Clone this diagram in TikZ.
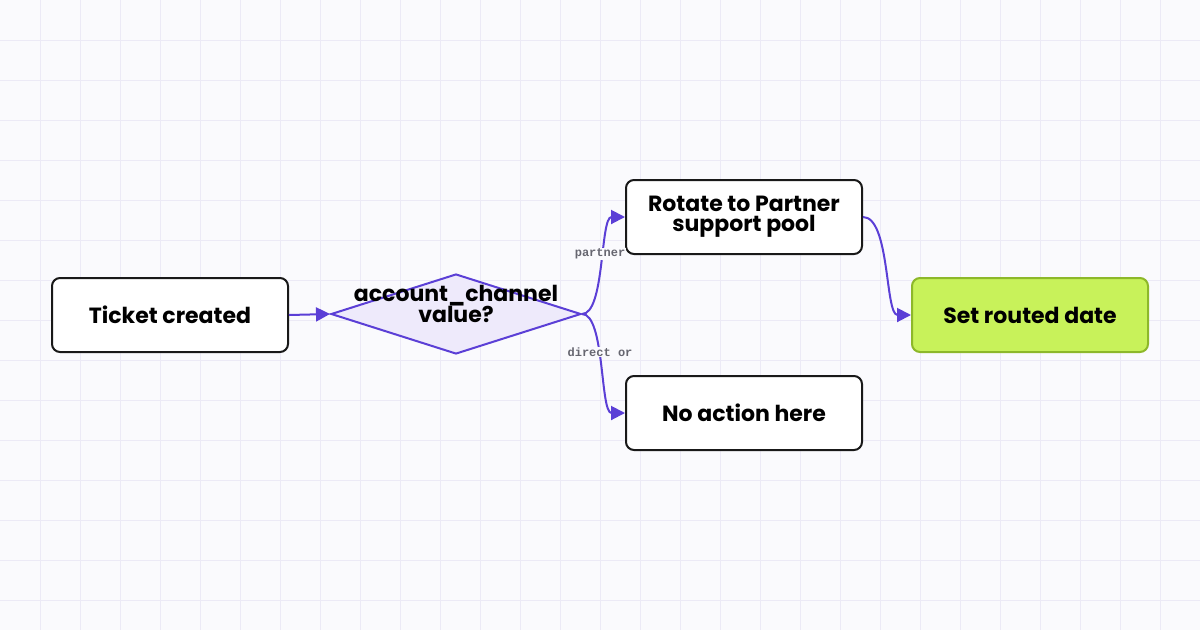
\documentclass[tikz,border=0pt]{standalone}
\usepackage{fontspec}
\setmainfont{Poppins}
\newfontfamily\lblfont{Liberation Mono}
\usetikzlibrary{shapes.geometric,arrows.meta}
\definecolor{edge}{HTML}{5B3FD6}
\definecolor{dfill}{HTML}{EEEAFB}
\definecolor{gfill}{HTML}{C8F25A}
\definecolor{gdraw}{HTML}{8DB82A}
\definecolor{gridc}{HTML}{ECEAF6}
\definecolor{bg}{HTML}{FAFAFD}
\definecolor{lbl}{HTML}{666670}
\begin{document}
\begin{tikzpicture}[x=1pt,y=-1pt,
  box/.style={draw=black!90,line width=2pt,rounded corners=8pt,fill=white,minimum width=236pt,minimum height=74pt,align=center,font=\fontsize{22}{20}\selectfont\bfseries,inner sep=2pt},
  conn/.style={draw=edge,line width=2pt,-{Triangle[length=14pt,width=14pt]}},
  lab/.style={font=\lblfont\fontsize{12}{12}\selectfont\bfseries,text=lbl}]
\fill[bg] (0,0) rectangle (1200,630);
\useasboundingbox (0,0) rectangle (1200,630);
\foreach \i in {40,80,...,1160} \draw[gridc,line width=1pt] (\i,0) -- (\i,630);
\foreach \j in {40,80,...,600} \draw[gridc,line width=1pt] (0,\j) -- (1200,\j);
\node[box] (t) at (170,315) {Ticket created};
\node[diamond,draw=edge,fill=dfill,line width=2pt,minimum width=250pt,minimum height=80pt,inner sep=0pt] (d) at (456,314) {};
\node[font=\fontsize{22}{20}\selectfont\bfseries,align=center] (dt) at (456,304) {account\_channel\\value?};
\node[box] (r) at (744,217) {Rotate to Partner\\support pool};
\node[box] (n) at (744,413) {No action here};
\node[box,fill=gfill,draw=gdraw] (s) at (1030,315) {Set routed date};
\draw[conn] (t.east) -- (d.west);
\draw[conn] (d.east) .. controls (605,314) and (600,217) .. (r.west);
\draw[conn] (d.east) .. controls (605,314) and (600,413) .. (n.west);
\draw[conn] (r.east) .. controls (890,217) and (885,315) .. (s.west);
\node[lab,fill=bg,inner sep=1pt] (lp) at (600,254) {partner};
\node[lab,fill=bg,inner sep=1pt] (ld) at (600,352) {direct or};
\end{tikzpicture}
\end{document}
